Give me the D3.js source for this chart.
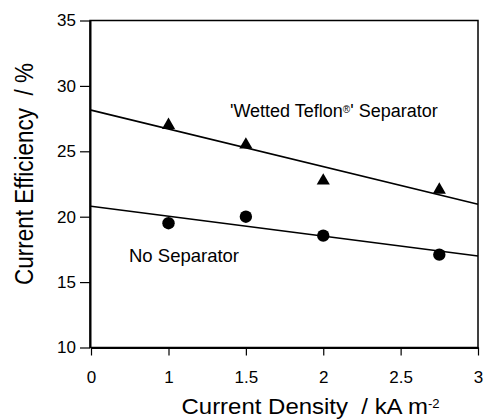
<!DOCTYPE html>
<html>
<head>
  <meta charset="utf-8">
  <title>Current efficiency</title>
  <script src="https://cdn.jsdelivr.net/npm/d3@7"></script>
  <style>
    body { margin: 0; background: #fff; }
    text { font-family: "Liberation Sans", Arial, Helvetica, sans-serif; fill: #000; white-space: pre; }
  </style>
</head>
<body>
  <div id="chart"></div>
  <script>
    // dados
    const ticksX = [0, 1, 1.5, 2, 2.5, 3];
    const ticksXLabels = ["0", "1", "1.5", "2", "2.5", "3"];
    const ticksY = [10, 15, 20, 25, 30, 35];
    const densidade = [1, 1.5, 2, 2.75];
    const teflon = [27.0, 25.5, 22.75, 22.05];
    const semSeparador = [19.5, 20.0, 18.55, 17.1];
    const ajusteX = [0, 3];
    const ajusteTeflon = [28.15, 20.95];
    const ajusteSem = [20.8, 17.0];

    const largura = 484, altura = 419;
    const esq = 90, dir = 478, topo = 20.5, base = 347.5;

    const svg = d3.select('#chart').append('svg')
      .attr('width', largura)
      .attr('height', altura);

    // eixo x quebrado: 0 -> 1 ocupa o mesmo espaco que 1 -> 1.5
    const x = d3.scaleLinear().domain([0, 1, 3]).range([91, 168.5, 478]);
    const y = d3.scaleLinear().domain([10, 35]).range([base, topo]);

    // moldura
    svg.append('rect')
      .attr('x', esq).attr('y', topo)
      .attr('width', dir - esq).attr('height', base - topo)
      .attr('fill', 'none').attr('stroke', '#000').attr('stroke-width', 1.5);

    const eixoY = svg.append('g')
      .attr('transform', 'translate(' + esq + ',0)')
      .call(d3.axisLeft(y).tickValues(ticksY).tickSize(10).tickPadding(4).tickSizeOuter(0));
    eixoY.selectAll('text').style('font-size', '17px');

    const eixoX = svg.append('g')
      .attr('transform', 'translate(0,' + base + ')')
      .call(d3.axisBottom(x).tickValues(ticksX).tickSize(8).tickPadding(15).tickSizeOuter(0)
        .tickFormat((d, i) => ticksXLabels[i]));
    eixoX.selectAll('text').style('font-size', '17px');

    svg.selectAll('.domain').attr('stroke-width', 2);
    svg.selectAll('.tick line').attr('stroke-width', 1.2);

    // retas de ajuste
    const linha = d3.line().x(d => x(d[0])).y(d => y(d[1]));
    [ajusteTeflon, ajusteSem].forEach(aj => {
      svg.append('path')
        .datum(ajusteX.map((v, i) => [v, aj[i]]))
        .attr('d', linha)
        .attr('fill', 'none')
        .attr('stroke', '#000')
        .attr('stroke-width', 1.6);
    });

    // pontos
    svg.selectAll('.tri')
      .data(densidade.map((v, i) => [v, teflon[i]]))
      .enter().append('path')
        .attr('class', 'tri')
        .attr('d', d3.symbol().type(d3.symbolTriangle).size(75))
        .attr('transform', d => 'translate(' + x(d[0]) + ',' + y(d[1]) + ')')
        .attr('fill', '#000');

    svg.selectAll('.circ')
      .data(densidade.map((v, i) => [v, semSeparador[i]]))
      .enter().append('circle')
        .attr('class', 'circ')
        .attr('cx', d => x(d[0]))
        .attr('cy', d => y(d[1]))
        .attr('r', 6.2)
        .attr('fill', '#000');

    // anotacoes
    const rotulo = svg.append('text')
      .attr('x', 230).attr('y', 117)
      .style('font-size', '18px');
    rotulo.append('tspan').text("'Wetted Teflon");
    rotulo.append('tspan').attr('baseline-shift', '40%').style('font-size', '10px').text('®');
    rotulo.append('tspan').text("' Separator");

    svg.append('text')
      .attr('x', 129).attr('y', 262)
      .style('font-size', '18.5px')
      .text('No Separator');

    // titulos dos eixos (a fonte do original e mais larga)
    svg.append('text')
      .attr('transform', 'translate(33,174) rotate(-90) scale(1,1.15)')
      .attr('text-anchor', 'middle')
      .style('font-size', '22.5px')
      .text('Current Efficiency  / %');

    const tituloX = svg.append('text')
      .attr('transform', 'translate(181.5,413.5) scale(1.09,1)')
      .style('font-size', '22px');
    tituloX.append('tspan').text('Current Density  / kA m');
    tituloX.append('tspan').attr('baseline-shift', '45%').style('font-size', '12px').text('-2');
  </script>
</body>
</html>
